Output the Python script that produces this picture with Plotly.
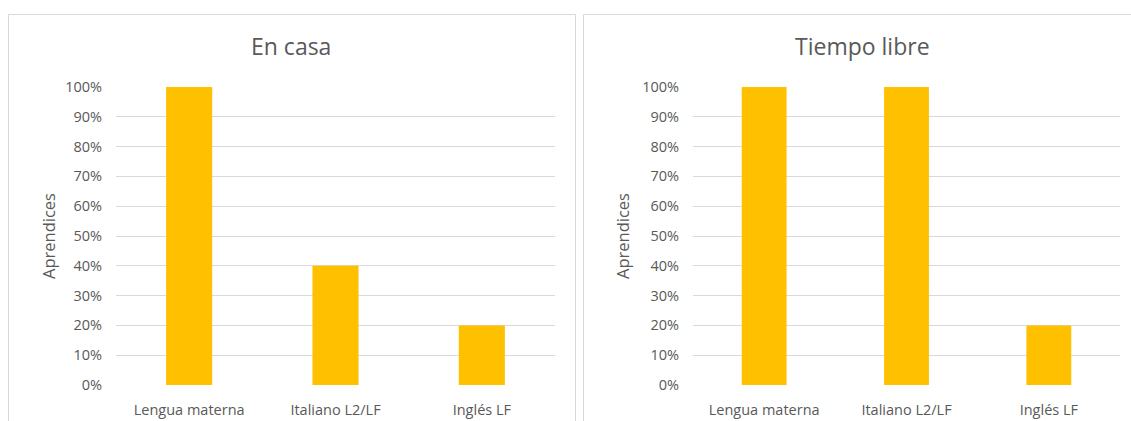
import plotly.graph_objects as go

W, H = 1131, 421

categories = ["Lengua materna", "Italiano L2/LF", "Inglés LF"]
en_casa = [1.00, 0.40, 0.20]
tiempo_libre = [1.00, 1.00, 0.20]
titles = ["En casa", "Tiempo libre"]
y_title = "Aprendices"
y_ticks = [i / 10 for i in range(11)]
y_tick_labels = [f"{i * 10}%" for i in range(11)]

BAR = "#FFC000"
GRID = "#D9D9D9"
TEXT = "#595959"
FONT = "Open Sans"


def px(x):
    return x / W


def py(y):
    return 1 - y / H


fig = go.Figure()
fig.add_trace(go.Bar(x=categories, y=en_casa, marker=dict(color=BAR, line=dict(width=0)),
                     xaxis="x", yaxis="y", showlegend=False))
fig.add_trace(go.Bar(x=categories, y=tiempo_libre, marker=dict(color=BAR, line=dict(width=0)),
                     xaxis="x2", yaxis="y2", showlegend=False))

ydom = [py(385), py(87)]
common_x = dict(showgrid=False, showline=False, zeroline=False, ticks="outside",
                ticklen=12, tickcolor="rgba(0,0,0,0)", automargin=False,
                tickfont=dict(family=FONT, size=14.5, color=TEXT), fixedrange=True)
common_y = dict(range=[0, 1], tickvals=y_ticks, ticktext=y_tick_labels,
                showgrid=True, gridcolor=GRID, gridwidth=1, zeroline=False,
                showline=False, ticks="outside", ticklen=10, tickcolor="rgba(0,0,0,0)",
                automargin=False,
                tickfont=dict(family=FONT, size=14.5, color=TEXT), fixedrange=True)

fig.update_layout(
    width=W, height=H,
    margin=dict(l=0, r=0, t=0, b=0, autoexpand=False),
    paper_bgcolor="white", plot_bgcolor="white",
    bargap=0.685,
    xaxis=dict(domain=[px(116), px(555)], anchor="y", **common_x),
    yaxis=dict(domain=ydom, anchor="x", **common_y),
    xaxis2=dict(domain=[px(693), px(1120)], anchor="y2", **common_x),
    yaxis2=dict(domain=ydom, anchor="x2", **common_y),
)

# chart frames
fig.add_shape(type="rect", xref="paper", yref="paper",
              x0=px(8.5), x1=px(575.5), y0=py(425), y1=py(14.5),
              line=dict(color=GRID, width=1), fillcolor="rgba(0,0,0,0)", layer="below")
fig.add_shape(type="rect", xref="paper", yref="paper",
              x0=px(583.5), x1=px(1140), y0=py(425), y1=py(14.5),
              line=dict(color=GRID, width=1), fillcolor="rgba(0,0,0,0)", layer="below")

# chart titles
for cx, t in zip([291, 862], titles):
    fig.add_annotation(x=px(cx), y=py(46), xref="paper", yref="paper", text=t,
                       showarrow=False, xanchor="center", yanchor="middle",
                       font=dict(family=FONT, size=23, color=TEXT))

# y-axis titles
for cx in [48, 622]:
    fig.add_annotation(x=px(cx), y=py(236), xref="paper", yref="paper", text=y_title,
                       showarrow=False, textangle=-90, xanchor="center", yanchor="middle",
                       font=dict(family=FONT, size=16.5, color=TEXT))

fig.write_html("out.html")
